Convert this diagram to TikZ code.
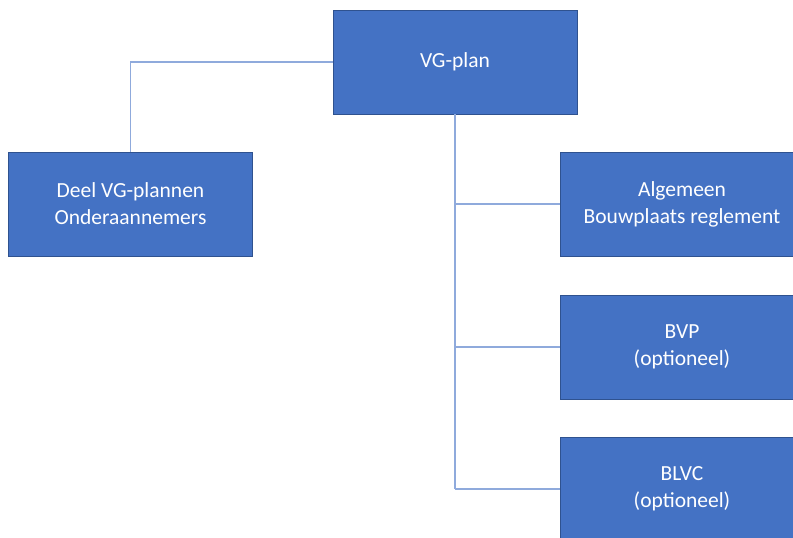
\documentclass[tikz,border=0pt]{standalone}
\usepackage{fontspec}
\setmainfont{Carlito}
\definecolor{boxfill}{HTML}{4472C4}
\definecolor{boxline}{HTML}{2F528F}
\definecolor{conn}{HTML}{8FAADC}
\begin{document}
\begin{tikzpicture}[x=1pt,y=-1pt,
  orgbox/.style={draw=boxline, line width=0.8pt, fill=boxfill, text=white,
    minimum width=244pt, minimum height=104pt, inner sep=0pt, align=center,
    font=\fontsize{21.5}{27}\selectfont},
  link/.style={draw=conn, line width=1.4pt}]
\useasboundingbox (0,0) rectangle (793,538);
\clip (0,0) rectangle (793,538);
\node[orgbox] (vg) at (455,62) {VG-plan};
\node[orgbox] (deel) at (130.5,204) {Deel VG-plannen\\Onderaannemers};
\node[orgbox] (alg) at (682,204) {Algemeen\\Bouwplaats reglement};
\node[orgbox] (bvp) at (682,347) {BVP\\(optioneel)};
\node[orgbox] (blvc) at (682,489) {BLVC\\(optioneel)};
\coordinate (trunk) at (455,489);
\draw[link] (vg.west) -| (deel.north);
\draw[link] (vg.south) -- (trunk);
\draw[link] (vg.south |- alg.west) -- (alg.west);
\draw[link] (vg.south |- bvp.west) -- (bvp.west);
\draw[link] (trunk) -- (blvc.west);
\end{tikzpicture}
\end{document}
